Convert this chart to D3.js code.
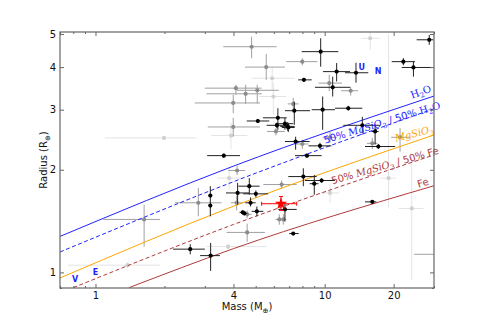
<!DOCTYPE html>
<html>
<head>
<meta charset="utf-8">
<script src="https://cdn.jsdelivr.net/npm/d3@7"></script>
<style>
  body { margin: 0; background: #fff; }
  svg text { font-family: "DejaVu Sans", sans-serif; }
</style>
</head>
<body>
<div id="chart"></div>
<script>
// planets: [mass, massLo, massHi, radius, radiusLo, radiusHi]
var lightPlanets = [
  [5.90, 4.8, 7.4, 3.71, 3.4, 4.0],
  [5.97, 5.2, 6.8, 3.28, 2.9, 3.6],
  [1.99, 1.10, 2.76, 2.48, 2.45, 2.51],
  [3.90, 3.2, 4.6, 2.52, 2.3, 2.75],
  [3.83, 3.4, 4.3, 1.89, 1.75, 2.05],
  [3.79, 3.05, 5.58, 1.19, 1.17, 1.21],
  [1.38, 0.76, 1.91, 1.05, 1.03, 1.07],
  [24.0, 21.0, 27.0, 1.54, 0.95, 2.19],
  [19.0, 17.5, 20.5, 1.89, 1.55, 5.0],
  [10.55, 9.6, 11.6, 1.71, 1.6, 1.82],
  [15.8, 14.5, 17.5, 4.86, 4.5, 5.2]
];

var greyPlanets = [
  [4.80, 3.61, 6.17, 4.59, 4.25, 4.91],
  [5.56, 4.49, 6.71, 4.00, 3.67, 4.37],
  [4.10, 3.00, 5.31, 3.47, 3.32, 3.55],
  [4.52, 3.05, 5.31, 3.34, 3.12, 3.55],
  [5.08, 4.13, 6.30, 3.42, 3.13, 3.55],
  [3.99, 2.71, 5.22, 3.14, 2.93, 3.32],
  [3.99, 3.09, 5.22, 2.67, 2.50, 2.84],
  [6.13, 5.60, 6.70, 2.59, 2.52, 2.65],
  [7.99, 6.80, 9.30, 4.15, 4.05, 4.25],
  [10.47, 9.40, 11.9, 3.59, 3.40, 3.80],
  [12.99, 11.8, 14.0, 3.41, 3.30, 3.50],
  [7.29, 6.90, 7.70, 3.12, 3.00, 3.25],
  [7.99, 7.50, 8.50, 2.38, 2.30, 2.45],
  [10.55, 9.80, 11.3, 2.49, 2.40, 2.58],
  [16.14, 15.3, 17.0, 2.39, 2.30, 2.48],
  [4.15, 3.80, 4.50, 1.99, 1.93, 2.05],
  [2.81, 2.22, 3.55, 1.60, 1.46, 1.77],
  [4.13, 3.90, 4.40, 1.60, 1.52, 1.68],
  [4.59, 4.40, 4.80, 1.48, 1.44, 1.52],
  [6.34, 6.10, 6.60, 1.43, 1.38, 1.48],
  [6.60, 6.40, 6.80, 1.43, 1.38, 1.48],
  [6.49, 5.40, 7.55, 1.81, 1.76, 1.86],
  [4.59, 3.73, 5.49, 1.31, 1.23, 1.39],
  [1.63, 1.08, 1.91, 1.43, 1.19, 1.58],
  [21.33, 19.5, 23.5, 2.49, 2.26, 2.65],
  [32, 24.6, 40, 1.13, 1.11, 1.15]
];

var blackPlanets = [
  [5.11, 4.57, 5.73, 2.78, 2.74, 2.82],
  [6.25, 5.38, 6.83, 2.84, 2.62, 3.03],
  [6.19, 5.58, 6.83, 2.70, 2.65, 2.75],
  [6.71, 6.10, 7.30, 2.73, 2.62, 2.84],
  [6.94, 6.50, 7.40, 2.66, 2.58, 2.74],
  [3.63, 3.07, 4.27, 2.20, 2.17, 2.23],
  [28.6, 25.2, 29.8, 4.81, 4.65, 4.97],
  [9.61, 7.94, 11.47, 4.44, 4.01, 4.86],
  [11.28, 9.83, 12.9, 3.88, 3.63, 4.11],
  [13.7, 12.27, 15.5, 3.85, 3.60, 4.12],
  [22.05, 19.62, 24.8, 4.15, 4.05, 4.25],
  [24.4, 21.7, 29.3, 3.99, 3.75, 4.15],
  [8.12, 7.67, 8.78, 3.67, 3.62, 3.72],
  [10.84, 9.07, 12.9, 3.49, 3.28, 3.75],
  [7.37, 6.71, 8.63, 2.98, 2.71, 3.17],
  [9.80, 8.78, 11.09, 3.00, 2.62, 3.28],
  [12.68, 11.09, 14.6, 3.03, 2.98, 3.08],
  [6.90, 6.40, 7.40, 2.68, 2.60, 2.76],
  [7.47, 6.71, 8.60, 2.42, 2.29, 2.50],
  [9.54, 8.50, 10.7, 2.35, 2.30, 2.40],
  [14.6, 12.06, 17.44, 2.70, 2.56, 2.86],
  [16.6, 16.0, 17.2, 2.59, 2.37, 2.71],
  [17.15, 15.0, 20.3, 2.34, 2.30, 2.38],
  [4.69, 4.20, 5.20, 1.79, 1.69, 1.89],
  [4.17, 3.71, 4.69, 1.71, 1.58, 1.83],
  [5.01, 4.41, 5.67, 1.70, 1.66, 1.74],
  [3.17, 3.12, 3.22, 1.68, 1.63, 1.79],
  [3.17, 3.12, 3.22, 1.57, 1.46, 1.63],
  [4.75, 4.50, 5.00, 1.60, 1.56, 1.66],
  [4.39, 4.25, 4.53, 1.50, 1.48, 1.52],
  [4.46, 4.32, 4.60, 1.49, 1.47, 1.51],
  [5.06, 4.80, 5.40, 1.51, 1.46, 1.56],
  [6.71, 6.28, 7.55, 1.53, 1.41, 1.60],
  [2.59, 2.18, 3.00, 1.17, 1.13, 1.21],
  [3.18, 2.86, 3.49, 1.12, 1.01, 1.22],
  [8.37, 7.42, 9.70, 2.20, 2.17, 2.23],
  [8.07, 6.94, 9.23, 1.91, 1.79, 2.02],
  [9.01, 8.60, 9.40, 1.82, 1.69, 1.93],
  [9.70, 8.20, 11.09, 1.86, 1.83, 1.89],
  [16.14, 15.0, 16.8, 1.61, 1.59, 1.63],
  [7.29, 7.00, 7.70, 1.30, 1.29, 1.31]
];

var targetPlanet = [6.45, 5.31, 7.55, 1.59, 1.52, 1.67];

// solar system planets
var solarNames = ["V", "E", "U", "N"];
var solarMass = [0.815, 1, 14.5, 17.1];
var solarRadius = [0.95, 1, 4.0, 3.88];

// composition curves
var h2oMass = [0.7, 4, 30], h2oRad = [1.275, 2.05, 3.29];
var mgH2oMass = [0.7, 4, 30], mgH2oRad = [1.148, 1.845, 3.02];
var mgsio3Mass = [0.7, 4, 30], mgsio3Rad = [0.963, 1.563, 2.53];
var mgFeMass = [0.8, 4, 30], mgFeRad = [0.902, 1.382, 2.21];
var feMass = [1.4, 4, 30], feRad = [0.902, 1.174, 1.795];

var xMajor = [1, 4, 10, 20];
var xMinor = [0.7, 0.8, 0.9, 2, 3, 5, 6, 7, 8, 9, 30];
var yMajor = [1, 2, 3, 4, 5];
var yMinor = [0.9];

var W = 482, H = 321;
var L = 60, R = 434, T = 32, B = 288;

var x = d3.scaleLog().domain([0.7, 30]).range([L, R]);
var y = d3.scaleLog().domain([0.9, 5.07]).range([B, T]);

var svg = d3.select("#chart")
    .append("svg")
    .attr("width", W)
    .attr("height", H);

svg.append("clipPath")
    .attr("id", "clip")
  .append("rect")
    .attr("x", L).attr("y", T)
    .attr("width", R - L).attr("height", B - T);

var plot = svg.append("g").attr("clip-path", "url(#clip)");

function drawPlanets(list, barColor, dotColor) {
    var g = plot.append("g");
    list.forEach(function(p) {
        g.append("line")
            .attr("x1", x(p[1])).attr("x2", x(p[2]))
            .attr("y1", y(p[3])).attr("y2", y(p[3]))
            .attr("stroke", barColor).attr("stroke-width", 1);
        g.append("line")
            .attr("x1", x(p[0])).attr("x2", x(p[0]))
            .attr("y1", y(p[4])).attr("y2", y(p[5]))
            .attr("stroke", barColor).attr("stroke-width", 1);
    });
    g.selectAll("circle")
        .data(list)
        .enter().append("circle")
        .attr("cx", function(d) { return x(d[0]); })
        .attr("cy", function(d) { return y(d[3]); })
        .attr("r", 2.1)
        .attr("fill", dotColor);
}

drawPlanets(lightPlanets, "#e4e4e4", "#d0d0d0");
drawPlanets(greyPlanets, "#a0a0a0", "#8c8c8c");

// composition curves
var curves = [
    { m: h2oMass, r: h2oRad, color: "#2222ff", dash: null },
    { m: mgH2oMass, r: mgH2oRad, color: "#2222ff", dash: "4,2.5" },
    { m: mgsio3Mass, r: mgsio3Rad, color: "#ffa500", dash: null },
    { m: mgFeMass, r: mgFeRad, color: "#b03a3a", dash: "4,2.5" },
    { m: feMass, r: feRad, color: "#b03a3a", dash: null }
];

var line = d3.line()
    .x(function(d) { return x(d[0]); })
    .y(function(d) { return y(d[1]); })
    .curve(d3.curveMonotoneX);

curves.forEach(function(c) {
    plot.append("path")
        .attr("d", line(d3.zip(c.m, c.r)))
        .attr("fill", "none")
        .attr("stroke", c.color)
        .attr("stroke-width", 1)
        .attr("stroke-dasharray", c.dash);
});

drawPlanets(blackPlanets, "#222", "#000");

// target planet (red star)
var tg = plot.append("g").attr("stroke", "red").attr("stroke-width", 1);
var tp = targetPlanet;
tg.append("line").attr("x1", x(tp[1])).attr("x2", x(tp[2])).attr("y1", y(tp[3])).attr("y2", y(tp[3]));
tg.append("line").attr("x1", x(tp[0])).attr("x2", x(tp[0])).attr("y1", y(tp[4])).attr("y2", y(tp[5]));
[tp[1], tp[2]].forEach(function(m) {
    tg.append("line").attr("x1", x(m)).attr("x2", x(m)).attr("y1", y(tp[3]) - 2).attr("y2", y(tp[3]) + 2);
});
[tp[4], tp[5]].forEach(function(r) {
    tg.append("line").attr("x1", x(tp[0]) - 2).attr("x2", x(tp[0]) + 2).attr("y1", y(r)).attr("y2", y(r));
});
plot.append("path")
    .attr("d", d3.symbol().type(d3.symbolStar).size(48)())
    .attr("transform", "translate(" + x(tp[0]) + "," + y(tp[3]) + ")")
    .attr("fill", "red");

// solar system letters
plot.selectAll("text.solar")
    .data(solarNames)
    .enter().append("text")
    .attr("class", "solar")
    .attr("x", function(d, i) { return x(solarMass[i]); })
    .attr("y", function(d, i) { return y(solarRadius[i]); })
    .attr("text-anchor", "middle")
    .attr("dominant-baseline", "central")
    .attr("font-size", 8)
    .attr("font-weight", "bold")
    .attr("fill", "#2222ff")
    .text(function(d) { return d; });

// curve labels
function label(px, py, angle, color, parts) {
    var t = svg.append("text")
        .attr("transform", "translate(" + px + "," + py + ") rotate(" + angle + ")")
        .attr("text-anchor", "middle")
        .attr("font-size", 10)
        .attr("fill", color);
    parts.forEach(function(p) {
        var s = t.append("tspan").text(p[0]);
        if (p[1] == "f") s.style("font-family", "DejaVu Serif");
        if (p[1] == "i") s.style("font-family", "DejaVu Serif").style("font-style", "italic");
        if (p[1] == "sub") s.style("font-family", "DejaVu Serif").attr("font-size", 7).attr("dy", 2.5);
        if (p[2]) s.attr("dy", p[2]);
    });
}

label(422, 95, -20, "#2222ff", [["H", "f"], ["2", "sub"], ["O", "f", -2.5]]);
label(383, 126, -17, "#2222ff", [["50% ", "s"], ["MgSiO", "i"], ["3", "sub"], [" / 50% ", "s", -2.5], ["H", "f"], ["2", "sub"], ["O", "f", -2.5]]);
label(415, 137, -14, "#ffa500", [["MgSiO", "i"], ["3", "sub"]]);
label(386, 169, -16, "#b03a3a", [["50% ", "s"], ["MgSiO", "i"], ["3", "sub"], [" / 50% Fe", "s", -2.5]]);
label(424, 186, -17, "#b03a3a", [["Fe", "s"]]);

// axes
var axisColor = "#666";
function styleAxis(g) {
    g.select(".domain").remove();
    g.selectAll("line").attr("stroke", axisColor);
    g.selectAll("text").attr("font-size", 10).attr("fill", "#111")
        .style("font-family", "DejaVu Sans");
}

svg.append("g").attr("transform", "translate(0," + B + ")")
    .call(d3.axisBottom(x).tickValues(xMajor).tickFormat(d3.format("d")).tickSize(-4).tickPadding(4))
    .call(styleAxis);
svg.append("g").attr("transform", "translate(0," + B + ")")
    .call(d3.axisBottom(x).tickValues(xMinor).tickFormat("").tickSize(-2))
    .call(styleAxis);
svg.append("g").attr("transform", "translate(0," + T + ")")
    .call(d3.axisTop(x).tickValues(xMajor).tickFormat("").tickSize(-4))
    .call(styleAxis);
svg.append("g").attr("transform", "translate(0," + T + ")")
    .call(d3.axisTop(x).tickValues(xMinor).tickFormat("").tickSize(-2))
    .call(styleAxis);
svg.append("g").attr("transform", "translate(" + L + ",0)")
    .call(d3.axisLeft(y).tickValues(yMajor).tickFormat(d3.format("d")).tickSize(-4).tickPadding(4))
    .call(styleAxis);
svg.append("g").attr("transform", "translate(" + L + ",0)")
    .call(d3.axisLeft(y).tickValues(yMinor).tickFormat("").tickSize(-2))
    .call(styleAxis);
svg.append("g").attr("transform", "translate(" + R + ",0)")
    .call(d3.axisRight(y).tickValues(yMajor).tickFormat("").tickSize(-4))
    .call(styleAxis);
svg.append("g").attr("transform", "translate(" + R + ",0)")
    .call(d3.axisRight(y).tickValues(yMinor).tickFormat("").tickSize(-2))
    .call(styleAxis);

svg.append("rect")
    .attr("x", L).attr("y", T)
    .attr("width", R - L).attr("height", B - T)
    .attr("fill", "none")
    .attr("stroke", axisColor)
    .attr("stroke-width", 1.2);

// axis titles
var xt = svg.append("text")
    .attr("x", (L + R) / 2).attr("y", 310)
    .attr("text-anchor", "middle")
    .attr("font-size", 10)
    .attr("fill", "#111");
xt.append("tspan").text("Mass (M");
xt.append("tspan").text("\u2295").attr("font-size", 7).attr("dy", 2.5);
xt.append("tspan").text(")").attr("dy", -2.5);

var yt = svg.append("text")
    .attr("transform", "translate(47," + (T + B) / 2 + ") rotate(-90)")
    .attr("text-anchor", "middle")
    .attr("font-size", 10)
    .attr("fill", "#111");
yt.append("tspan").text("Radius (R");
yt.append("tspan").text("\u2295").attr("font-size", 7).attr("dy", 2.5);
yt.append("tspan").text(")").attr("dy", -2.5);
</script>
</body>
</html>
